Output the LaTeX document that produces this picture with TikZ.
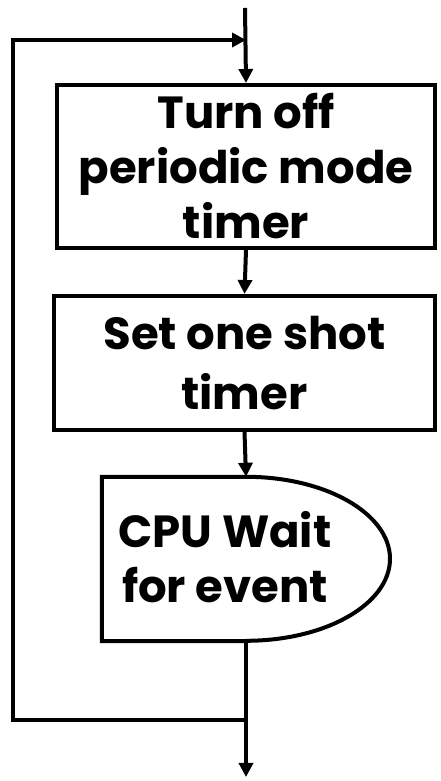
\documentclass[tikz,border=0pt]{standalone}
\usepackage{fontspec}
\setmainfont{Poppins}
\usetikzlibrary{arrows.meta}
\tikzset{
  line/.style={line width=4pt, line join=miter},
  arr/.style={line, -{Triangle[length=14pt,width=14pt]}},
  stepbox/.style={draw, line width=4pt, align=center, inner sep=0pt},
  bigfont/.style={font=\fontsize{45}{55}\selectfont\bfseries},
  txt/.style={align=center, inner sep=0pt}
}
\begin{document}
\begin{tikzpicture}[x=1pt,y=1pt]
\useasboundingbox (0,0) rectangle (440,781);
\coordinate (start) at (245,773);
\node[stepbox, bigfont, minimum width=378pt, minimum height=163pt] (b1) at (246,614.5) {Turn off\\periodic mode\\timer};
\node[stepbox, font=\fontsize{45}{60}\selectfont\bfseries, minimum width=381pt, minimum height=134pt] (b2) at (244.5,418) {Set one shot\\timer};
\node[minimum width=288pt, minimum height=164pt, inner sep=0pt] (d) at (246,222) {};
\draw[line] (d.south) -- (d.south west) -- (d.north west) -- (d.north)
   arc[start angle=90, end angle=-90, x radius=144pt, y radius=82pt];
\node[txt, bigfont] (dtext) at (225,224) {CPU Wait\\for event};
\coordinate (join) at (d.south |- 0,61);
\coordinate (endp) at (d.south |- 0,4);
\coordinate (ll) at (13,61);
\coordinate (ul) at (13,741);
\coordinate (loopin) at (b1.north |- 0,741);
\draw[arr] (start) -- (b1.north);
\draw[arr] (b1.south) -- (b2.north);
\draw[arr] (b2.south) -- (d.north);
\draw[arr] (d.south) -- (endp);
\draw[arr] (join) -- (ll) -- (ul) -- (loopin);
\end{tikzpicture}
\end{document}
